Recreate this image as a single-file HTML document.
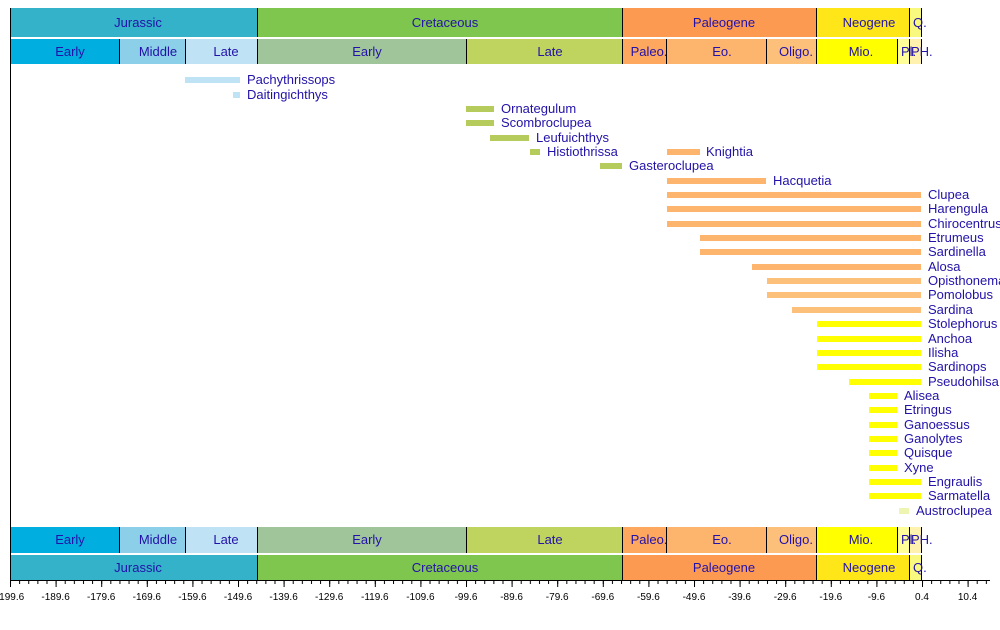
<!DOCTYPE html>
<html><head><meta charset="utf-8"><style>
html,body{margin:0;padding:0;background:#fff;width:1000px;height:630px;overflow:hidden}
svg{display:block;font-family:"Liberation Sans",sans-serif}
text{fill:#2212a8;font-size:13px}
.c{text-anchor:middle}
.t{fill:#000;font-size:10px;text-anchor:middle}
</style></head><body>
<svg width="1000" height="630" viewBox="0 0 1000 630">
<defs>
<pattern id="mn" x="10" y="0" width="9.12" height="10" patternUnits="userSpaceOnUse"><rect x="0" y="0" width="1" height="4" fill="#000"/></pattern>
<pattern id="mj" x="10" y="0" width="45.6" height="10" patternUnits="userSpaceOnUse"><rect x="0" y="0" width="1" height="7" fill="#000"/></pattern>
</defs>
<g>
<rect x="10" y="8" width="247" height="29" fill="#34b2c9"/>
<rect x="257" y="8" width="365" height="29" fill="#7fc64e"/>
<rect x="622" y="8" width="194" height="29" fill="#fd9a52"/>
<rect x="816" y="8" width="93" height="29" fill="#ffe619"/>
<rect x="909" y="8" width="12" height="29" fill="#f9f97f"/>
<rect x="10" y="39" width="109" height="25" fill="#00aee0"/>
<rect x="119" y="39" width="66" height="25" fill="#8ccfe8"/>
<rect x="185" y="39" width="72" height="25" fill="#bfe3f5"/>
<rect x="257" y="39" width="209" height="25" fill="#a0c59a"/>
<rect x="466" y="39" width="156" height="25" fill="#bfd35f"/>
<rect x="622" y="39" width="44" height="25" fill="#fda75f"/>
<rect x="666" y="39" width="100" height="25" fill="#fdb46c"/>
<rect x="766" y="39" width="50" height="25" fill="#fdc07a"/>
<rect x="816" y="39" width="81" height="25" fill="#ffff00"/>
<rect x="897" y="39" width="12" height="25" fill="#ffff99"/>
<rect x="909" y="39" width="12" height="25" fill="#fff2ae"/>
<g stroke="#000" stroke-width="1">
<line x1="257.5" y1="8" x2="257.5" y2="37"/><line x1="622.5" y1="8" x2="622.5" y2="37"/><line x1="816.5" y1="8" x2="816.5" y2="37"/><line x1="909.5" y1="8" x2="909.5" y2="37"/><line x1="921.5" y1="8" x2="921.5" y2="37"/>
<line x1="119.5" y1="39" x2="119.5" y2="64"/><line x1="185.5" y1="39" x2="185.5" y2="64"/><line x1="257.5" y1="39" x2="257.5" y2="64"/><line x1="466.5" y1="39" x2="466.5" y2="64"/><line x1="622.5" y1="39" x2="622.5" y2="64"/><line x1="666.5" y1="39" x2="666.5" y2="64"/><line x1="766.5" y1="39" x2="766.5" y2="64"/><line x1="816.5" y1="39" x2="816.5" y2="64"/><line x1="897.5" y1="39" x2="897.5" y2="64"/><line x1="909.5" y1="39" x2="909.5" y2="64"/><line x1="921.5" y1="39" x2="921.5" y2="64"/>
</g>
<text class="c" x="138" y="27">Jurassic</text><text class="c" x="445" y="27">Cretaceous</text><text class="c" x="724" y="27">Paleogene</text><text class="c" x="869" y="27">Neogene</text><text x="913" y="27">Q.</text>
<text class="c" x="70" y="56">Early</text><text class="c" x="158" y="56">Middle</text><text class="c" x="226" y="56">Late</text><text class="c" x="367" y="56">Early</text><text class="c" x="550" y="56">Late</text><text class="c" x="649" y="56">Paleo.</text><text class="c" x="722" y="56">Eo.</text><text class="c" x="796" y="56">Oligo.</text><text class="c" x="861" y="56">Mio.</text><text x="901" y="56">Pl.</text><text x="911" y="56">PH.</text>
</g>
<g>
<rect x="10" y="527" width="109" height="26" fill="#00aee0"/>
<rect x="119" y="527" width="66" height="26" fill="#8ccfe8"/>
<rect x="185" y="527" width="72" height="26" fill="#bfe3f5"/>
<rect x="257" y="527" width="209" height="26" fill="#a0c59a"/>
<rect x="466" y="527" width="156" height="26" fill="#bfd35f"/>
<rect x="622" y="527" width="44" height="26" fill="#fda75f"/>
<rect x="666" y="527" width="100" height="26" fill="#fdb46c"/>
<rect x="766" y="527" width="50" height="26" fill="#fdc07a"/>
<rect x="816" y="527" width="81" height="26" fill="#ffff00"/>
<rect x="897" y="527" width="12" height="26" fill="#ffff99"/>
<rect x="909" y="527" width="12" height="26" fill="#fff2ae"/>
<rect x="10" y="555" width="247" height="25" fill="#34b2c9"/>
<rect x="257" y="555" width="365" height="25" fill="#7fc64e"/>
<rect x="622" y="555" width="194" height="25" fill="#fd9a52"/>
<rect x="816" y="555" width="93" height="25" fill="#ffe619"/>
<rect x="909" y="555" width="12" height="25" fill="#f9f97f"/>
<g stroke="#000" stroke-width="1">
<line x1="119.5" y1="527" x2="119.5" y2="553"/><line x1="185.5" y1="527" x2="185.5" y2="553"/><line x1="257.5" y1="527" x2="257.5" y2="553"/><line x1="466.5" y1="527" x2="466.5" y2="553"/><line x1="622.5" y1="527" x2="622.5" y2="553"/><line x1="666.5" y1="527" x2="666.5" y2="553"/><line x1="766.5" y1="527" x2="766.5" y2="553"/><line x1="816.5" y1="527" x2="816.5" y2="553"/><line x1="897.5" y1="527" x2="897.5" y2="553"/><line x1="909.5" y1="527" x2="909.5" y2="553"/><line x1="921.5" y1="527" x2="921.5" y2="553"/>
<line x1="257.5" y1="555" x2="257.5" y2="580"/><line x1="622.5" y1="555" x2="622.5" y2="580"/><line x1="816.5" y1="555" x2="816.5" y2="580"/><line x1="909.5" y1="555" x2="909.5" y2="580"/><line x1="921.5" y1="555" x2="921.5" y2="580"/>
</g>
<text class="c" x="70" y="544">Early</text><text class="c" x="158" y="544">Middle</text><text class="c" x="226" y="544">Late</text><text class="c" x="367" y="544">Early</text><text class="c" x="550" y="544">Late</text><text class="c" x="649" y="544">Paleo.</text><text class="c" x="722" y="544">Eo.</text><text class="c" x="796" y="544">Oligo.</text><text class="c" x="861" y="544">Mio.</text><text x="901" y="544">Pl.</text><text x="911" y="544">PH.</text>
<text class="c" x="138" y="572">Jurassic</text><text class="c" x="445" y="572">Cretaceous</text><text class="c" x="724" y="572">Paleogene</text><text class="c" x="869" y="572">Neogene</text><text x="913" y="572">Q.</text>
</g>
<line x1="10.5" y1="8" x2="10.5" y2="584" stroke="#000"/>
<line x1="10" y1="580.5" x2="990" y2="580.5" stroke="#000"/>
<rect x="10" y="581" width="980" height="4" fill="url(#mn)"/>
<rect x="10" y="581" width="980" height="7" fill="url(#mj)"/>
<g>
<text class="t" x="10" y="600">-199.6</text><text class="t" x="55.6" y="600">-189.6</text><text class="t" x="101.2" y="600">-179.6</text><text class="t" x="146.8" y="600">-169.6</text><text class="t" x="192.4" y="600">-159.6</text><text class="t" x="238" y="600">-149.6</text><text class="t" x="283.6" y="600">-139.6</text><text class="t" x="329.2" y="600">-129.6</text><text class="t" x="374.8" y="600">-119.6</text><text class="t" x="420.4" y="600">-109.6</text><text class="t" x="466" y="600">-99.6</text><text class="t" x="511.6" y="600">-89.6</text><text class="t" x="557.2" y="600">-79.6</text><text class="t" x="602.8" y="600">-69.6</text><text class="t" x="648.4" y="600">-59.6</text><text class="t" x="694" y="600">-49.6</text><text class="t" x="739.6" y="600">-39.6</text><text class="t" x="785.2" y="600">-29.6</text><text class="t" x="830.8" y="600">-19.6</text><text class="t" x="876.4" y="600">-9.6</text><text class="t" x="922" y="600">0.4</text><text class="t" x="967.6" y="600">10.4</text>
</g>
<g>
<rect x="185" y="77" width="55" height="6" fill="#bfe3f5"/><text x="247" y="84">Pachythrissops</text>
<rect x="233" y="92" width="7" height="6" fill="#bfe3f5"/><text x="247" y="99">Daitingichthys</text>
<rect x="466" y="106" width="28" height="6" fill="#b5cc5c"/><text x="501" y="113">Ornategulum</text>
<rect x="466" y="120" width="28" height="6" fill="#b5cc5c"/><text x="501" y="127">Scombroclupea</text>
<rect x="490" y="135" width="39" height="6" fill="#b5cc5c"/><text x="536" y="142">Leufuichthys</text>
<rect x="530" y="149" width="10" height="6" fill="#b5cc5c"/><text x="547" y="156">Histiothrissa</text>
<rect x="667" y="149" width="33" height="6" fill="#fdb46c"/><text x="706" y="156">Knightia</text>
<rect x="600" y="163" width="22" height="6" fill="#b5cc5c"/><text x="629" y="170">Gasteroclupea</text>
<rect x="667" y="178" width="99" height="6" fill="#fdb46c"/><text x="773" y="185">Hacquetia</text>
<rect x="667" y="192" width="254" height="6" fill="#fdb46c"/><text x="928" y="199">Clupea</text>
<rect x="667" y="206" width="254" height="6" fill="#fdb46c"/><text x="928" y="213">Harengula</text>
<rect x="667" y="221" width="254" height="6" fill="#fdb46c"/><text x="928" y="228">Chirocentrus</text>
<rect x="700" y="235" width="221" height="6" fill="#fdb46c"/><text x="928" y="242">Etrumeus</text>
<rect x="700" y="249" width="221" height="6" fill="#fdb46c"/><text x="928" y="256">Sardinella</text>
<rect x="752" y="264" width="169" height="6" fill="#fdb46c"/><text x="928" y="271">Alosa</text>
<rect x="767" y="278" width="154" height="6" fill="#fdc07a"/><text x="928" y="285">Opisthonema</text>
<rect x="767" y="292" width="154" height="6" fill="#fdc07a"/><text x="928" y="299">Pomolobus</text>
<rect x="792" y="307" width="129" height="6" fill="#fdc07a"/><text x="928" y="314">Sardina</text>
<rect x="817" y="321" width="104" height="6" fill="#ffff00"/><text x="928" y="328">Stolephorus</text>
<rect x="817" y="336" width="104" height="6" fill="#ffff00"/><text x="928" y="343">Anchoa</text>
<rect x="817" y="350" width="104" height="6" fill="#ffff00"/><text x="928" y="357">Ilisha</text>
<rect x="817" y="364" width="104" height="6" fill="#ffff00"/><text x="928" y="371">Sardinops</text>
<rect x="849" y="379" width="72" height="6" fill="#ffff00"/><text x="928" y="386">Pseudohilsa</text>
<rect x="869" y="393" width="28" height="6" fill="#ffff00"/><text x="904" y="400">Alisea</text>
<rect x="869" y="407" width="28" height="6" fill="#ffff00"/><text x="904" y="414">Etringus</text>
<rect x="869" y="422" width="28" height="6" fill="#ffff00"/><text x="904" y="429">Ganoessus</text>
<rect x="869" y="436" width="28" height="6" fill="#ffff00"/><text x="904" y="443">Ganolytes</text>
<rect x="869" y="450" width="28" height="6" fill="#ffff00"/><text x="904" y="457">Quisque</text>
<rect x="869" y="465" width="28" height="6" fill="#ffff00"/><text x="904" y="472">Xyne</text>
<rect x="869" y="479" width="52" height="6" fill="#ffff00"/><text x="928" y="486">Engraulis</text>
<rect x="869" y="493" width="52" height="6" fill="#ffff00"/><text x="928" y="500">Sarmatella</text>
<rect x="899" y="508" width="10" height="6" fill="#eef5b0"/><text x="916" y="515">Austroclupea</text>
</g>
</svg>
</body></html>
